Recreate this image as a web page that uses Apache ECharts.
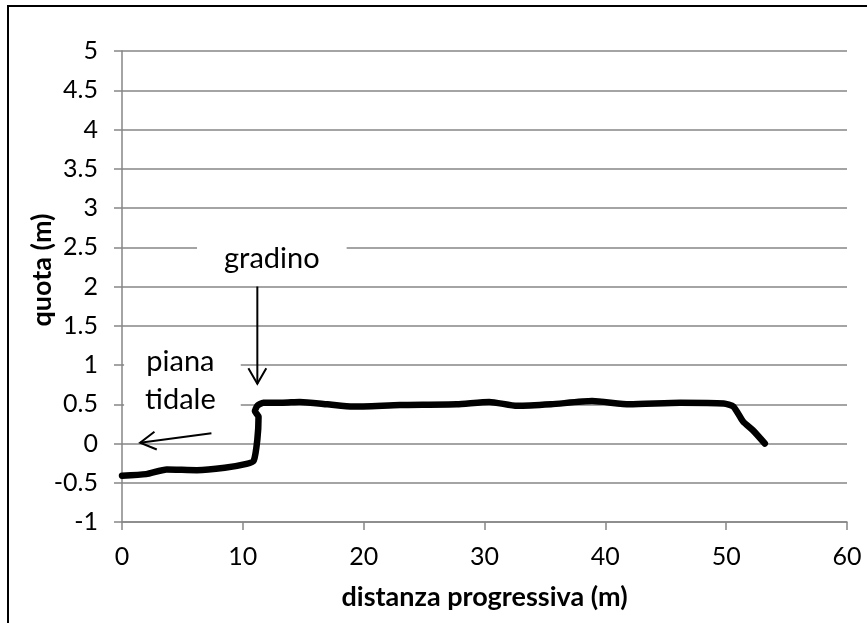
<!DOCTYPE html>
<html>
<head>
<meta charset="utf-8">
<script src="https://cdn.jsdelivr.net/npm/echarts@6/dist/echarts.min.js"></script>
<style>
html,body{margin:0;padding:0;background:#fff;}
#main{width:867px;height:623px;}
</style>
</head>
<body>
<div id="main"></div>
<script>
// Data
var distanza = [0, 2, 3.7, 6.2, 8.5, 10.3, 10.9, 11.2, 11.3, 11.0, 11.2, 11.7, 13.3, 14.7, 17, 19.1, 23, 27.7, 30.4, 32.7, 35.5, 38.9, 42, 46.2, 49.8, 50.6, 51.4, 52.2, 53.2];
var quota = [-0.41, -0.39, -0.33, -0.34, -0.31, -0.26, -0.22, 0.05, 0.34, 0.41, 0.48, 0.52, 0.52, 0.53, 0.50, 0.47, 0.49, 0.50, 0.53, 0.48, 0.50, 0.54, 0.50, 0.52, 0.51, 0.47, 0.28, 0.17, 0.0];
var xTitle = 'distanza progressiva (m)';
var yTitle = 'quota (m)';
// annotations (data coordinates)
var gradinoLabel = {text: 'gradino', pos: [12.4, 2.35]};
var gradinoArrow = {from: [11.2, 2.0], to: [11.2, 0.76]};
var pianaLabel = {text: 'piana\ntidale', pos: [5.0, 0.80]};
var pianaArrow = {from: [7.4, 0.13], to: [1.5, 0.01]};

var FONT = 'Lato, "Open Sans", sans-serif';
var chart = echarts.init(document.getElementById('main'), null, {renderer: 'canvas'});
var pts = distanza.map(function (d, i) { return [d, quota[i]]; });

var option = {
  animation: false,
  backgroundColor: '#fff',
  grid: {left: 122, right: 20, top: 51, bottom: 101, containLabel: false},
  xAxis: {
    type: 'value', min: 0, max: 60, interval: 10,
    name: xTitle, nameLocation: 'middle', nameGap: 62,
    nameTextStyle: {fontFamily: FONT, fontSize: 27, fontWeight: 'bold', color: '#000'},
    axisLine: {show: true, onZero: false, lineStyle: {color: '#868686', width: 1.5}},
    axisTick: {show: true, length: 8, lineStyle: {color: '#868686', width: 1.5}},
    axisLabel: {fontFamily: FONT, fontSize: 25, color: '#000', margin: 22},
    splitLine: {show: false}
  },
  yAxis: {
    type: 'value', min: -1, max: 5, interval: 0.5,
    axisLine: {show: true, onZero: false, lineStyle: {color: '#868686', width: 1.5}},
    axisTick: {show: true, length: 8, lineStyle: {color: '#868686', width: 1.5}},
    axisLabel: {fontFamily: FONT, fontSize: 25, color: '#000', margin: 24},
    splitLine: {show: true, lineStyle: {color: '#868686', width: 1.5}}
  },
  series: [{
    type: 'line', data: pts, showSymbol: false, symbol: 'none',
    smooth: 0.2,
    lineStyle: {color: '#000', width: 6.5, cap: 'round', join: 'round'},
    z: 3
  }]
};
chart.setOption(option);

function px(p) { return chart.convertToPixel({gridIndex: 0}, p); }
function arrow(a) {
  var s = px(a.from), t = px(a.to);
  var ang = Math.atan2(t[1] - s[1], t[0] - s[0]);
  var L = 18, W = 0.52;
  var p1 = [t[0] - L * Math.cos(ang - W), t[1] - L * Math.sin(ang - W)];
  var p2 = [t[0] - L * Math.cos(ang + W), t[1] - L * Math.sin(ang + W)];
  return [
    {type: 'line', shape: {x1: s[0], y1: s[1], x2: t[0], y2: t[1]}, style: {stroke: '#000', lineWidth: 2}, z: 20},
    {type: 'polyline', shape: {points: [p1, t, p2]}, style: {stroke: '#000', lineWidth: 2, fill: null}, z: 20}
  ];
}
var g = px(gradinoLabel.pos), p = px(pianaLabel.pos);
var graphics = [
  {type: 'rect', shape: {x: 8, y: 6, width: 900, height: 700}, style: {stroke: '#000', lineWidth: 2, fill: null}, z: 30},
  {type: 'text', x: 42, y: 270, rotation: Math.PI / 2, z: 15,
   style: {text: yTitle, fontFamily: FONT, fontSize: 27, fontWeight: 'bold', fill: '#000', align: 'center', verticalAlign: 'middle'}},
  {type: 'text', x: g[0], y: g[1], z: 15,
   style: {text: gradinoLabel.text, fontFamily: FONT, fontSize: 29, fill: '#000', align: 'center', verticalAlign: 'middle',
           backgroundColor: '#fff', padding: [8, 27, 8, 27]}},
  {type: 'text', x: p[0], y: p[1], z: 15,
   style: {text: pianaLabel.text, fontFamily: FONT, fontSize: 29, lineHeight: 38, fill: '#000', align: 'center', verticalAlign: 'middle',
           backgroundColor: '#fff', padding: [2, 25, 2, 21]}}
].concat(arrow(gradinoArrow)).concat(arrow(pianaArrow));
chart.setOption({graphic: graphics});
</script>
</body>
</html>
